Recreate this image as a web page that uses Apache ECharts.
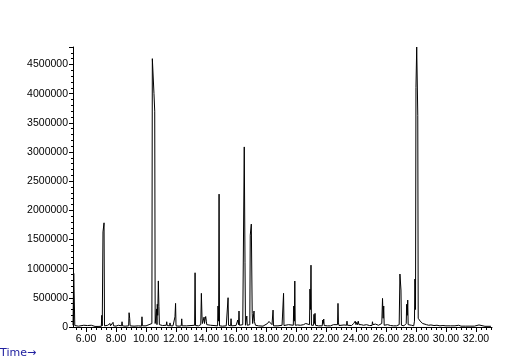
<!DOCTYPE html>
<html>
<head>
<meta charset="utf-8">
<script src="https://cdn.jsdelivr.net/npm/echarts@6/dist/echarts.min.js"></script>
<style>html,body{margin:0;padding:0;background:#fff}#c{width:505px;height:361px}</style>
</head>
<body>
<div id="c"></div>
<script>
// Total ion chromatogram: [retention time (min), abundance]
var tracePoints = [
[5.13,30000],[5.18,920000],[5.22,900000],[5.25,25000],[5.28,50000],[5.31,20000],[5.5,15000],[5.6,30000],[5.63,12000],
[5.85,30000],[5.88,12000],[6.1,25000],[6.13,12000],[6.35,30000],[6.38,12000],[6.6,10000],[6.8,10000],[7.02,12000],
[7.05,200000],[7.08,20000],[7.11,20000],[7.13,1630000],[7.2,1786000],[7.23,20000],
[7.3,15000],[7.45,30000],[7.48,15000],[7.55,40000],[7.6,60000],[7.63,20000],[7.75,50000],[7.8,80000],[7.83,20000],
[8.0,15000],[8.15,30000],[8.18,15000],[8.37,20000],[8.4,90000],[8.43,20000],[8.6,15000],[8.84,20000],[8.87,245000],
[8.91,150000],[8.94,20000],[9.2,15000],[9.5,20000],[9.7,15000],[9.73,175000],[9.76,20000],
[10.0,20000],[10.2,40000],[10.3,50000],[10.39,60000],[10.42,4600000],[10.47,4600000],[10.53,4000000],[10.58,3700000],
[10.61,60000],[10.67,40000],[10.7,310000],[10.73,40000],[10.75,390000],[10.78,200000],[10.82,790000],[10.86,350000],
[10.89,40000],[11.0,30000],[11.1,25000],[11.35,30000],[11.38,90000],[11.41,25000],[11.57,20000],[11.6,70000],[11.63,20000],
[11.8,20000],[11.9,20000],[11.93,175000],[11.97,405000],[12.0,20000],[12.2,15000],[12.35,20000],[12.38,140000],[12.41,20000],
[12.7,20000],[12.8,30000],[13.0,25000],[13.24,30000],[13.27,930000],[13.3,25000],[13.5,20000],[13.65,40000],[13.69,577000],
[13.73,188000],[13.76,60000],[13.84,40000],[13.87,170000],[13.9,60000],[13.93,120000],[13.98,180000],[14.02,100000],
[14.05,40000],[14.15,60000],[14.18,20000],[14.3,30000],[14.38,45000],[14.41,20000],[14.77,20000],[14.8,360000],[14.84,100000],
[14.87,2278000],[14.9,20000],[15.1,15000],[15.35,20000],[15.44,20000],[15.47,502000],[15.5,30000],[15.64,20000],[15.67,142000],
[15.7,20000],[16.0,25000],[16.09,30000],[16.12,120000],[16.17,40000],[16.2,274000],[16.23,30000],[16.35,40000],[16.45,40000],
[16.52,40000],[16.55,3087000],[16.6,1100000],[16.63,30000],[16.69,30000],[16.72,188000],[16.75,30000],[16.92,40000],
[16.95,1575000],[17.02,1764000],[17.08,234000],[17.11,60000],[17.17,60000],[17.2,274000],[17.23,90000],[17.3,30000],
[17.5,20000],[17.8,15000],[18.1,60000],[18.2,95000],[18.3,95000],[18.4,40000],[18.44,40000],[18.47,290000],[18.5,20000],
[18.8,20000],[19.07,30000],[19.1,188000],[19.17,577000],[19.2,25000],[19.5,40000],[19.6,30000],[19.82,30000],[19.85,360000],
[19.89,100000],[19.92,788000],[19.95,30000],[20.1,35000],[20.3,30000],[20.5,40000],[20.65,60000],[20.75,50000],[20.9,40000],
[20.93,650000],[20.97,300000],[21.0,1060000],[21.03,30000],[21.17,30000],[21.2,217000],[21.23,60000],[21.27,234000],
[21.3,30000],[21.5,20000],[21.75,20000],[21.78,120000],[21.82,60000],[21.85,137000],[21.88,25000],[22.1,20000],[22.3,20000],
[22.5,40000],[22.77,40000],[22.8,405000],[22.83,70000],[22.87,25000],[23.0,30000],[23.2,35000],[23.37,30000],[23.4,100000],
[23.43,30000],[23.7,25000],[23.85,60000],[23.9,40000],[23.95,100000],[24.0,40000],[24.05,80000],[24.1,40000],[24.15,100000],
[24.2,40000],[24.25,70000],[24.35,40000],[24.5,30000],[24.7,40000],[24.9,25000],[25.07,25000],[25.1,90000],[25.13,40000],
[25.3,50000],[25.5,30000],[25.72,60000],[25.77,490000],[25.81,150000],[25.85,360000],[25.88,30000],[26.1,40000],[26.3,25000],
[26.5,20000],[26.7,20000],[26.88,40000],[26.93,908000],[27.0,634000],[27.03,30000],[27.2,20000],[27.3,40000],[27.35,60000],
[27.38,390000],[27.42,200000],[27.45,462000],[27.48,40000],[27.6,60000],[27.7,30000],[27.85,20000],[27.9,100000],
[27.93,822000],[27.97,300000],[28.0,4105000],[28.05,4800000],[28.12,3630000],[28.15,150000],[28.22,140000],[28.28,100000],
[28.35,80000],[28.45,60000],[28.55,50000],[28.7,40000],[28.85,30000],[29.0,35000],[29.2,25000],[29.4,30000],[29.6,20000],
[29.8,25000],[30.0,20000],[30.3,20000],[30.6,20000],[30.85,30000],[31.0,15000],[31.3,15000],[31.6,15000],[31.9,15000],
[32.2,35000],[32.3,15000],[32.6,12000],[33.0,12000]
];
var xTickValues = [6,8,10,12,14,16,18,20,22,24,26,28,30,32];
var xTickLabels = ['6.00','8.00','10.00','12.00','14.00','16.00','18.00','20.00','22.00','24.00','26.00','28.00','30.00','32.00'];
var yTickLabels = ['0','500000','1000000','1500000','2000000','2500000','3000000','3500000','4000000','4500000'];

var xMin = 5.13, xMax = 33.07;
var minorTicks = [];
for (var i = 0; i * (1/3) + 5 <= xMax; i++) {
  var v = 5 + i / 3;
  if (v >= xMin) minorTicks.push(+v.toFixed(4));
}

var chart = echarts.init(document.getElementById('c'), null, {renderer: 'canvas'});
var font = 'Liberation Sans, Arial, sans-serif';
chart.setOption({
  animation: false,
  backgroundColor: '#fff',
  grid: {left: 73, right: 13, top: 47, bottom: 34, containLabel: false},
  xAxis: [{
    type: 'value', min: xMin, max: xMax,
    axisLine: {show: true, lineStyle: {color: '#000', width: 1}},
    axisTick: {show: true, length: 5, lineStyle: {color: '#000'}, customValues: xTickValues},
    axisLabel: {show: true, customValues: xTickValues, color: '#000', fontFamily: font, fontSize: 10.5, margin: 7,
      formatter: function (v) { var k = xTickValues.indexOf(Math.round(v)); return k >= 0 ? xTickLabels[k] : ''; }},
    splitLine: {show: false}
  }, {
    type: 'value', min: xMin, max: xMax, position: 'bottom',
    axisLine: {show: false},
    axisTick: {show: true, length: 3, lineStyle: {color: '#000'}, customValues: minorTicks},
    axisLabel: {show: false},
    splitLine: {show: false}
  }],
  yAxis: {
    type: 'value', min: 0, max: 4800000, interval: 500000,
    axisLine: {show: true, lineStyle: {color: '#000', width: 1}},
    axisTick: {show: true, length: 4, lineStyle: {color: '#000'}},
    minorTick: {show: true, splitNumber: 5, length: 2, lineStyle: {color: '#000'}},
    axisLabel: {color: '#000', fontFamily: font, fontSize: 10.5, margin: 5,
      formatter: function (v) { var k = Math.round(v / 500000); return yTickLabels[k] !== undefined ? yTickLabels[k] : ''; }},
    splitLine: {show: false}
  },
  series: [{
    type: 'line', xAxisIndex: 0, data: tracePoints, symbol: 'none', showSymbol: false,
    lineStyle: {color: '#000', width: 1}, silent: true, clip: false
  }],
  graphic: [{
    type: 'text', left: 0, top: 348,
    style: {text: 'Time→', fill: '#2020a0', font: '11px DejaVu Sans, sans-serif'}
  }]
});
</script>
</body>
</html>
